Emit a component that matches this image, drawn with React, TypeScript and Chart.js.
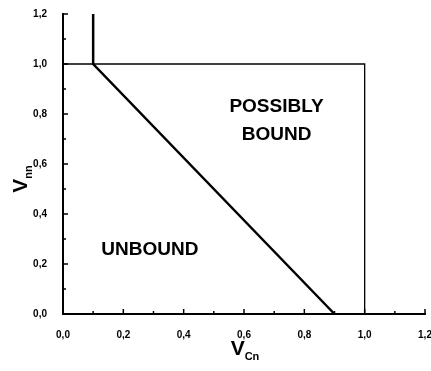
import React, { useEffect, useRef } from "react";
import { Chart, registerables } from "chart.js";

Chart.register(...registerables);

// Boundary (thick) line: vertical at V_Cn=0.1 then diagonal to (0.9, 0)
const boundaryX = [0.1, 0.1, 0.9];
const boundaryY = [1.2, 1.0, 0.0];
// Box (thin) line: top edge at V_nn=1 and right edge at V_Cn=1
const boxX = [0.0, 1.0, 1.0];
const boxY = [1.0, 1.0, 0.0];

const axisMin = 0;
const axisMax = 1.2;
const tickStep = 0.1;

const regionLabels = ["POSSIBLY", "BOUND", "UNBOUND"];
const regionX = [0.708, 0.708, 0.288];
const regionY = [0.828, 0.716, 0.256];

const xTitleMain = "V";
const xTitleSub = "Cn";
const yTitleMain = "V";
const yTitleSub = "nn";

const FONT = '"Liberation Sans", Arial, Helvetica, sans-serif';

const fmt = (v: number) => {
  const k = Math.round(v * 10);
  if (k % 2 !== 0) return "";
  return (k / 10).toFixed(1).replace(".", ",");
};

const decorPlugin = {
  id: "decor",
  afterDraw(chart: any) {
    const ctx = chart.ctx as CanvasRenderingContext2D;
    const xs = chart.scales.x;
    const ys = chart.scales.y;
    const area = chart.chartArea;
    ctx.save();
    ctx.strokeStyle = "#000";
    ctx.lineWidth = 1.5;
    // inward ticks
    const n = Math.round((axisMax - axisMin) / tickStep);
    for (let i = 0; i <= n; i++) {
      const v = axisMin + i * tickStep;
      const len = i % 2 === 0 ? 5 : 3;
      const px = xs.getPixelForValue(v);
      ctx.beginPath();
      ctx.moveTo(px, area.bottom);
      ctx.lineTo(px, area.bottom - len);
      ctx.stroke();
      const py = ys.getPixelForValue(v);
      ctx.beginPath();
      ctx.moveTo(area.left, py);
      ctx.lineTo(area.left + len, py);
      ctx.stroke();
    }
    // region labels
    ctx.fillStyle = "#000";
    ctx.font = `bold 19px ${FONT}`;
    ctx.textAlign = "center";
    ctx.textBaseline = "middle";
    regionLabels.forEach((t, i) => {
      ctx.fillText(t, xs.getPixelForValue(regionX[i]), ys.getPixelForValue(regionY[i]));
    });
    // x title
    ctx.textAlign = "left";
    ctx.textBaseline = "alphabetic";
    const mainFont = `bold 21px ${FONT}`;
    const subFont = `bold 11px ${FONT}`;
    ctx.font = mainFont;
    const wV = ctx.measureText(xTitleMain).width;
    ctx.font = subFont;
    const wS = ctx.measureText(xTitleSub).width;
    const cx = (area.left + area.right) / 2 + 1;
    const bx = cx - (wV + wS) / 2;
    ctx.font = mainFont;
    ctx.fillText(xTitleMain, bx, 355);
    ctx.font = subFont;
    ctx.fillText(xTitleSub, bx + wV, 360);
    // y title
    ctx.font = mainFont;
    const wV2 = ctx.measureText(yTitleMain).width;
    ctx.font = subFont;
    const wS2 = ctx.measureText(yTitleSub).width;
    const cy = ys.getPixelForValue(0.54);
    ctx.translate(27, cy);
    ctx.rotate(-Math.PI / 2);
    const by = -(wV2 + wS2) / 2;
    ctx.font = mainFont;
    ctx.fillText(yTitleMain, by, 0);
    ctx.font = subFont;
    ctx.fillText(yTitleSub, by + wV2, 5);
    ctx.restore();
  },
};

export default function App() {
  const ref = useRef<HTMLCanvasElement | null>(null);
  useEffect(() => {
    if (!ref.current) return;
    Chart.defaults.font.family = FONT;
    const chart = new Chart(ref.current, {
      type: "scatter",
      data: {
        datasets: [
          {
            data: boundaryX.map((x, i) => ({ x, y: boundaryY[i] })),
            showLine: true,
            borderColor: "#000",
            borderWidth: 2.5,
            pointRadius: 0,
            clip: false as any,
          },
          {
            data: boxX.map((x, i) => ({ x, y: boxY[i] })),
            showLine: true,
            borderColor: "#000",
            borderWidth: 1.3,
            pointRadius: 0,
            clip: false as any,
          },
        ],
      },
      options: {
        animation: false,
        responsive: false,
        devicePixelRatio: 1,
        layout: { padding: { left: 0, right: 6, top: 14, bottom: 0 } },
        plugins: { legend: { display: false }, tooltip: { enabled: false } },
        scales: {
          x: {
            type: "linear",
            min: axisMin,
            max: axisMax,
            grid: { display: false },
            border: { display: true, color: "#000", width: 2 },
            ticks: {
              stepSize: tickStep,
              autoSkip: false,
              maxRotation: 0,
              padding: 7,
              color: "#000",
              font: { size: 10, weight: "bold" },
              callback: (v: any) => fmt(Number(v)),
            },
            afterFit: (s: any) => {
              s.height = 57;
              s.paddingLeft = 0;
              s.paddingRight = 0;
            },
          },
          y: {
            type: "linear",
            min: axisMin,
            max: axisMax,
            grid: { display: false },
            border: { display: true, color: "#000", width: 2 },
            ticks: {
              stepSize: tickStep,
              autoSkip: false,
              padding: 8,
              color: "#000",
              font: { size: 10, weight: "bold" },
              callback: (v: any) => fmt(Number(v)),
            },
            afterFit: (s: any) => {
              s.width = 63;
              s.paddingTop = 0;
              s.paddingBottom = 0;
            },
          },
        },
      },
      plugins: [decorPlugin],
    });
    return () => chart.destroy();
  }, []);
  return (
    <div style={{ position: "fixed", left: 0, top: 0, width: 431, height: 371, background: "#fff" }}>
      <canvas ref={ref} width={431} height={371} />
    </div>
  );
}
